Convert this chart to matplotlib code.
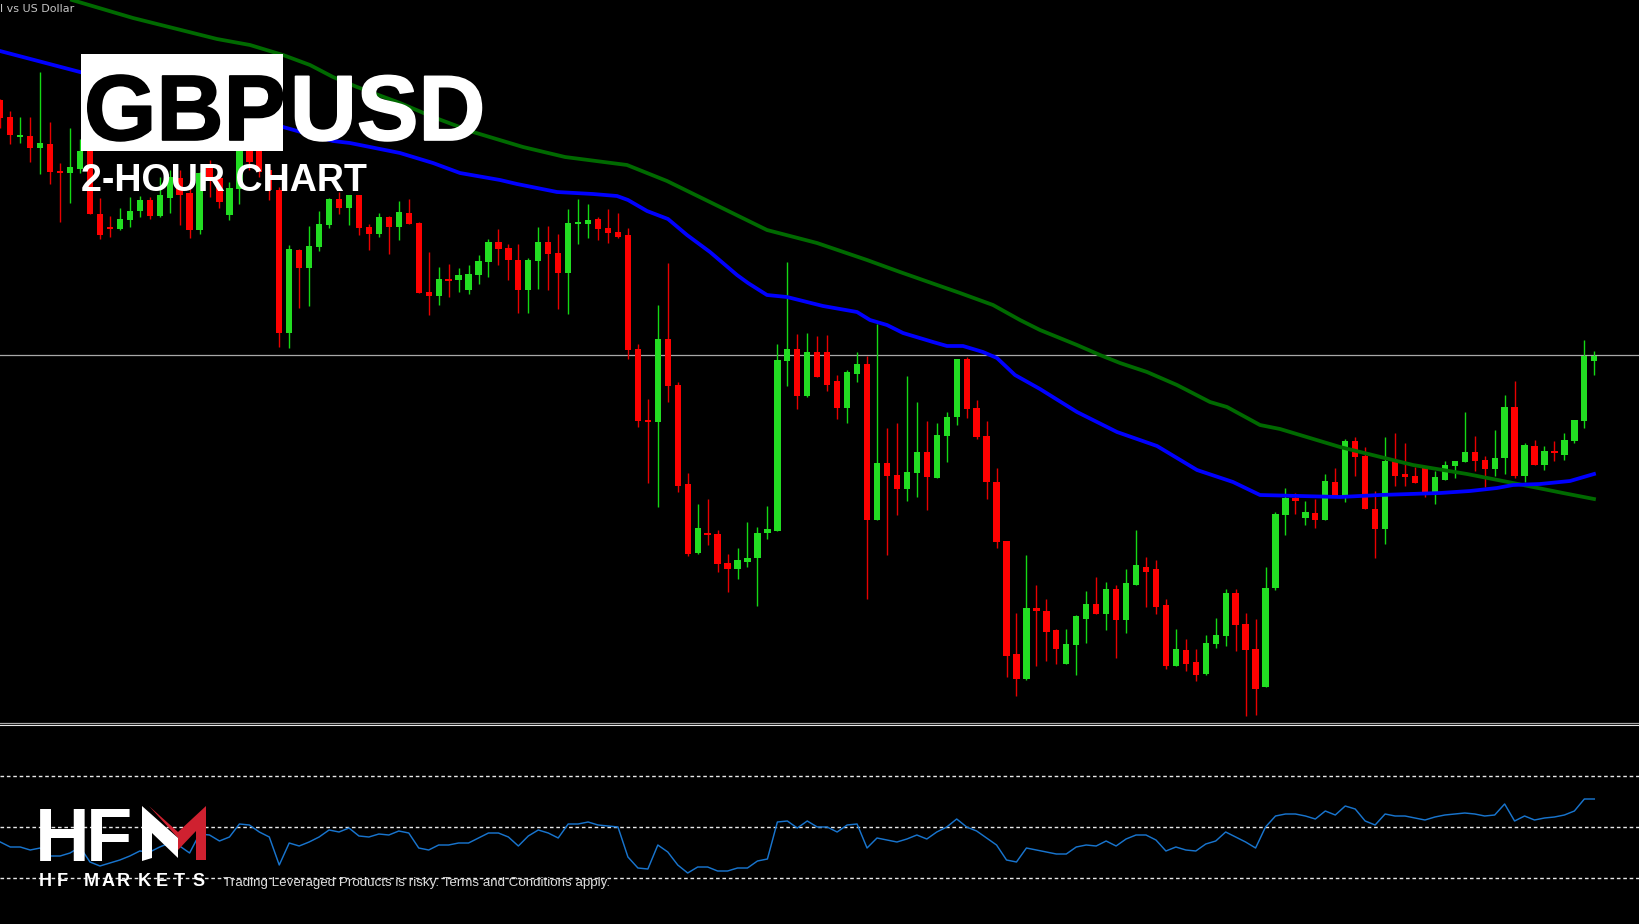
import matplotlib

matplotlib.use("Agg")
import matplotlib.patheffects as pe
import matplotlib.pyplot as plt
from matplotlib.patches import Polygon, Rectangle

# everything is read in chart rows/columns of the 1640x924 picture, row 0 at the top
WIDTH, HEIGHT = 1640, 924
BAR_X0, BAR_STEP = 0.3, 9.9625

opens = [100, 117, 137, 136, 148, 144, 171, 173, 169, 150, 214, 227, 229, 220, 211, 200, 216, 198, 178, 193, 230, 168, 178, 215, 189, 151, 151, 170, 190, 333, 250, 268, 247, 225, 199, 208, 195, 227, 234, 217, 227, 213, 223, 292, 296, 279, 280, 290, 275, 262, 242, 248, 260, 290, 261, 242, 253, 273, 224, 224, 219, 228, 232, 235, 349, 420, 422, 339, 385, 484, 553, 533, 534, 563, 569, 562, 558, 533, 531, 361, 349, 396, 352, 352, 381, 408, 374, 364, 520, 463, 475, 489, 473, 452, 478, 436, 417, 359, 408, 436, 482, 541, 654, 679, 608, 611, 630, 664, 645, 619, 604, 614, 589, 620, 585, 567, 569, 605, 666, 650, 662, 674, 644, 636, 593, 624, 649, 687, 588, 515, 498, 518, 513, 520, 482, 495, 441, 456, 509, 529, 461, 474, 476, 468, 493, 480, 466, 462, 452, 460, 469, 458, 407, 476, 446, 465, 451, 455, 441, 421, 361]
highs = [99, 111, 117, 117, 72, 122, 163, 128, 139, 130, 198, 216, 208, 197, 196, 197, 177, 170, 170, 180, 172, 160, 165, 182, 140, 140, 140, 165, 187, 245, 249, 226, 211, 198, 192, 195, 195, 224, 213, 216, 201, 199, 222, 252, 267, 264, 268, 265, 255, 239, 229, 244, 244, 258, 227, 226, 234, 209, 199, 204, 217, 209, 213, 228, 344, 399, 305, 263, 382, 473, 504, 499, 530, 554, 548, 522, 527, 506, 344, 262, 334, 333, 336, 335, 375, 370, 352, 356, 324, 428, 423, 376, 402, 421, 423, 412, 359, 357, 400, 421, 468, 541, 613, 555, 585, 599, 629, 629, 615, 591, 577, 582, 585, 569, 530, 557, 560, 599, 629, 639, 649, 635, 618, 589, 589, 613, 619, 567, 512, 488, 493, 501, 499, 474, 468, 439, 437, 447, 491, 437, 433, 443, 467, 467, 471, 461, 461, 412, 436, 456, 430, 395, 381, 443, 440, 446, 441, 433, 420, 340, 351]
lows = [128, 144, 143, 162, 174, 184, 222, 203, 173, 214, 239, 237, 230, 227, 217, 219, 217, 213, 225, 238, 234, 197, 208, 220, 204, 170, 177, 200, 347, 348, 308, 306, 251, 228, 214, 225, 235, 250, 237, 254, 240, 224, 293, 315, 305, 297, 292, 294, 284, 277, 265, 280, 313, 313, 289, 290, 309, 314, 244, 238, 240, 243, 238, 359, 427, 483, 507, 402, 492, 556, 554, 545, 572, 592, 579, 567, 606, 539, 531, 386, 409, 397, 377, 391, 419, 423, 382, 599, 520, 555, 515, 501, 497, 510, 478, 462, 425, 418, 439, 499, 548, 677, 696, 680, 666, 661, 664, 664, 675, 643, 614, 630, 658, 633, 585, 607, 614, 669, 666, 671, 681, 675, 648, 646, 651, 716, 715, 687, 590, 535, 514, 525, 528, 520, 497, 502, 476, 509, 558, 544, 486, 486, 483, 497, 504, 480, 478, 462, 471, 487, 476, 474, 478, 482, 465, 470, 461, 460, 443, 428, 375]
closes = [118, 135, 134.5, 148, 143, 172, 173, 167, 151, 214, 235, 229, 219, 211, 200, 216, 195, 177, 195, 230, 173, 180, 202, 188, 151, 162, 172, 190, 333, 249, 268, 246, 224, 199, 208, 195, 228, 234, 217, 227, 212, 224, 293, 296, 279, 280, 275, 274, 261, 242, 249, 260, 290, 260, 242, 254, 273, 223, 222, 220, 229, 233, 237, 350, 421, 422, 339, 386, 486, 554, 528, 535, 564, 569, 560, 558, 533, 529, 360, 349, 396, 352, 377, 385, 408, 372, 364, 520, 463, 476, 489, 472, 452, 477, 435, 417, 359, 409, 437, 482, 542, 656, 679, 608, 611, 632, 649, 644, 616, 604, 614, 589, 620, 583, 565, 572, 607, 666, 649, 664, 675, 643, 635, 593, 625, 650, 689, 588, 514, 498, 501, 512, 520, 481, 497, 441, 457, 509, 529, 461, 476, 477, 483, 493, 477, 465, 461, 452, 461, 469, 458, 407, 476, 445, 465, 451, 453, 440, 420, 356, 356]

ma_blue_x = [0, 80, 283, 333, 350, 400, 433, 460, 500, 517, 557, 593, 617, 628, 647, 668, 687, 710, 737, 748, 767, 787, 823, 857, 870, 887, 903, 933, 947, 963, 983, 997, 1015, 1040, 1077, 1117, 1157, 1197, 1233, 1260, 1300, 1340, 1380, 1440, 1470, 1497, 1513, 1540, 1570, 1594]
ma_blue_y = [51, 72, 127, 141, 143, 153, 163, 173, 180, 184, 192, 194, 196, 200, 211, 219, 235, 252, 275, 283, 295, 297, 306, 312, 320, 325, 333, 342, 346, 346, 352, 358, 375, 389, 412, 432, 446, 470, 482, 495, 496, 497, 495, 493, 491, 488, 485, 484, 481, 474]
ma_green_x = [72, 133, 217, 250, 283, 310, 333, 357, 400, 433, 473, 523, 565, 627, 667, 767, 817, 867, 900, 960, 993, 1020, 1040, 1077, 1100, 1120, 1147, 1177, 1210, 1227, 1260, 1280, 1340, 1413, 1467, 1513, 1563, 1594]
ma_green_y = [0, 18, 39, 45, 55, 65, 77, 87, 103, 117, 132, 147, 157, 165, 181, 230, 243, 260, 272, 293, 305, 320, 330, 345, 355, 363, 372, 385, 402, 407, 425, 429, 447, 465, 474, 483, 493, 499]

rsi = [842, 847, 847, 850, 848, 856, 856, 853, 847, 862, 866, 863, 860, 856, 851, 852, 847, 843, 846, 853, 834, 835, 841, 837, 824, 825, 832, 837, 865, 843, 846, 842, 837, 830, 832, 828, 836, 837, 834, 835, 831, 833, 848, 850, 845, 845, 843, 843, 838, 833, 833, 837, 846, 836, 830, 833, 838, 824, 824, 822, 825, 826, 827, 857, 868, 869, 845, 852, 865, 873, 867, 867, 871, 871, 868, 868, 861, 859, 822, 821, 828, 821, 827, 827, 832, 825, 824, 848, 838, 840, 842, 839, 835, 839, 832, 827, 819, 827, 831, 838, 845, 860, 862, 848, 850, 852, 854, 854, 847, 845, 846, 841, 846, 839, 835, 835, 840, 851, 847, 850, 851, 844, 841, 832, 837, 842, 848, 827, 816, 814, 814, 816, 819, 811, 815, 806, 809, 821, 825, 814, 816, 816, 818, 820, 817, 815, 814, 813, 814, 816, 815, 804, 821, 816, 820, 818, 817, 815, 811, 799, 799]
rsi_levels = [775.5, 826.5, 877.5]
price_line = 355
separator_rows = [722.5, 725]

logo_letters = list("HFMARKETS")
logo_letter_x = [39, 57, 84, 102, 117, 138, 156, 174, 192]

GREEN = "#22DD22"
RED = "#FF0000"
WICK_GREEN = "#14D814"
WICK_RED = "#E80000"
LOGO_RED = "#CF2130"
SANS_BOLD = {"family": "Liberation Sans", "weight": "bold"}


def draw_candles(ax):
    xs = [BAR_X0 + BAR_STEP * i for i in range(len(opens))]
    up = [c < o for o, c in zip(opens, closes)]
    ax.vlines(xs, highs, lows, colors=[WICK_GREEN if u else WICK_RED for u in up], lw=1.0, zorder=2)
    ax.bar(
        xs,
        [max(abs(o - c), 2) for o, c in zip(opens, closes)],
        bottom=[min(o, c) for o, c in zip(opens, closes)],
        width=6.3,
        color=[GREEN if u else RED for u in up],
        linewidth=0,
        zorder=3,
    )


def draw_logo(ax):
    ax.text(35, 861, "H", color="white", fontsize=54.5, va="baseline", ha="left", zorder=8, **SANS_BOLD)
    ax.text(86, 861, "F", color="white", fontsize=54.5, va="baseline", ha="left", zorder=8, **SANS_BOLD)
    white = [(142, 806), (178, 838), (178, 858), (152, 833), (152, 858), (142, 861)]
    red = [(149, 806), (178, 832), (206, 806), (206, 860), (196, 860), (196, 831), (178, 850), (178, 838)]
    ax.add_patch(Polygon(red, closed=True, color=LOGO_RED, lw=0, zorder=8))
    ax.add_patch(Polygon(white, closed=True, color="white", lw=0, zorder=9))
    for x, ch in zip(logo_letter_x, logo_letters):
        ax.text(x, 886, ch, color="white", fontsize=13, va="baseline", ha="left", zorder=8, **SANS_BOLD)


def main():
    fig = plt.figure(figsize=(16.4, 9.24), dpi=100, facecolor="black")
    ax = fig.add_axes([0, 0, 1, 1])
    ax.set_xlim(0, WIDTH)
    ax.set_ylim(HEIGHT, 0)
    ax.axis("off")

    ax.axhline(price_line, color="#A8A8A8", lw=0.9, zorder=1)
    draw_candles(ax)
    ax.plot(ma_green_x, ma_green_y, color="#006A00", lw=2.7, zorder=4)
    ax.plot(ma_blue_x, ma_blue_y, color="#0000FF", lw=2.7, zorder=4)

    ax.axhline(separator_rows[0], color="#A8A8A8", lw=0.9, zorder=5)
    ax.axhline(separator_rows[1], color="#E8E8E8", lw=0.8, zorder=5)

    for level in rsi_levels:
        ax.axhline(level, color="#E8E8E8", lw=1.0, dashes=(2.6, 2.0), zorder=1)
    rsi_x = [BAR_X0 + BAR_STEP * i for i in range(len(rsi))]
    ax.plot(rsi_x, rsi, color="#1874CD", lw=1.05, zorder=2)

    ax.add_patch(Rectangle((81.5, 54), 201.5, 97, color="white", lw=0, zorder=6))
    ax.text(84, 140, "GBP", color="black", fontsize=67, va="baseline", ha="left", zorder=7,
            path_effects=[pe.withStroke(linewidth=1.2, foreground="black")], **SANS_BOLD)
    ax.text(290, 140, "USD", color="white", fontsize=66.6, va="baseline", ha="left", zorder=7,
            path_effects=[pe.withStroke(linewidth=1.2, foreground="white")], **SANS_BOLD)
    ax.text(81, 191, "2-HOUR CHART", color="white", fontsize=27.1, va="baseline", ha="left", zorder=7, **SANS_BOLD)

    ax.text(0, 8.5, "l vs US Dollar", color="#C4C4C4", fontsize=8.0, family="DejaVu Sans", va="center", ha="left", zorder=7)
    ax.text(223, 886, "Trading Leveraged Products is risky. Terms and Conditions apply.", color="#DCDCDC",
            fontsize=9.6, family="Liberation Sans", va="baseline", ha="left", zorder=7)
    draw_logo(ax)

    fig.savefig("out.png", dpi=100, facecolor="black")


if __name__ == "__main__":
    main()
